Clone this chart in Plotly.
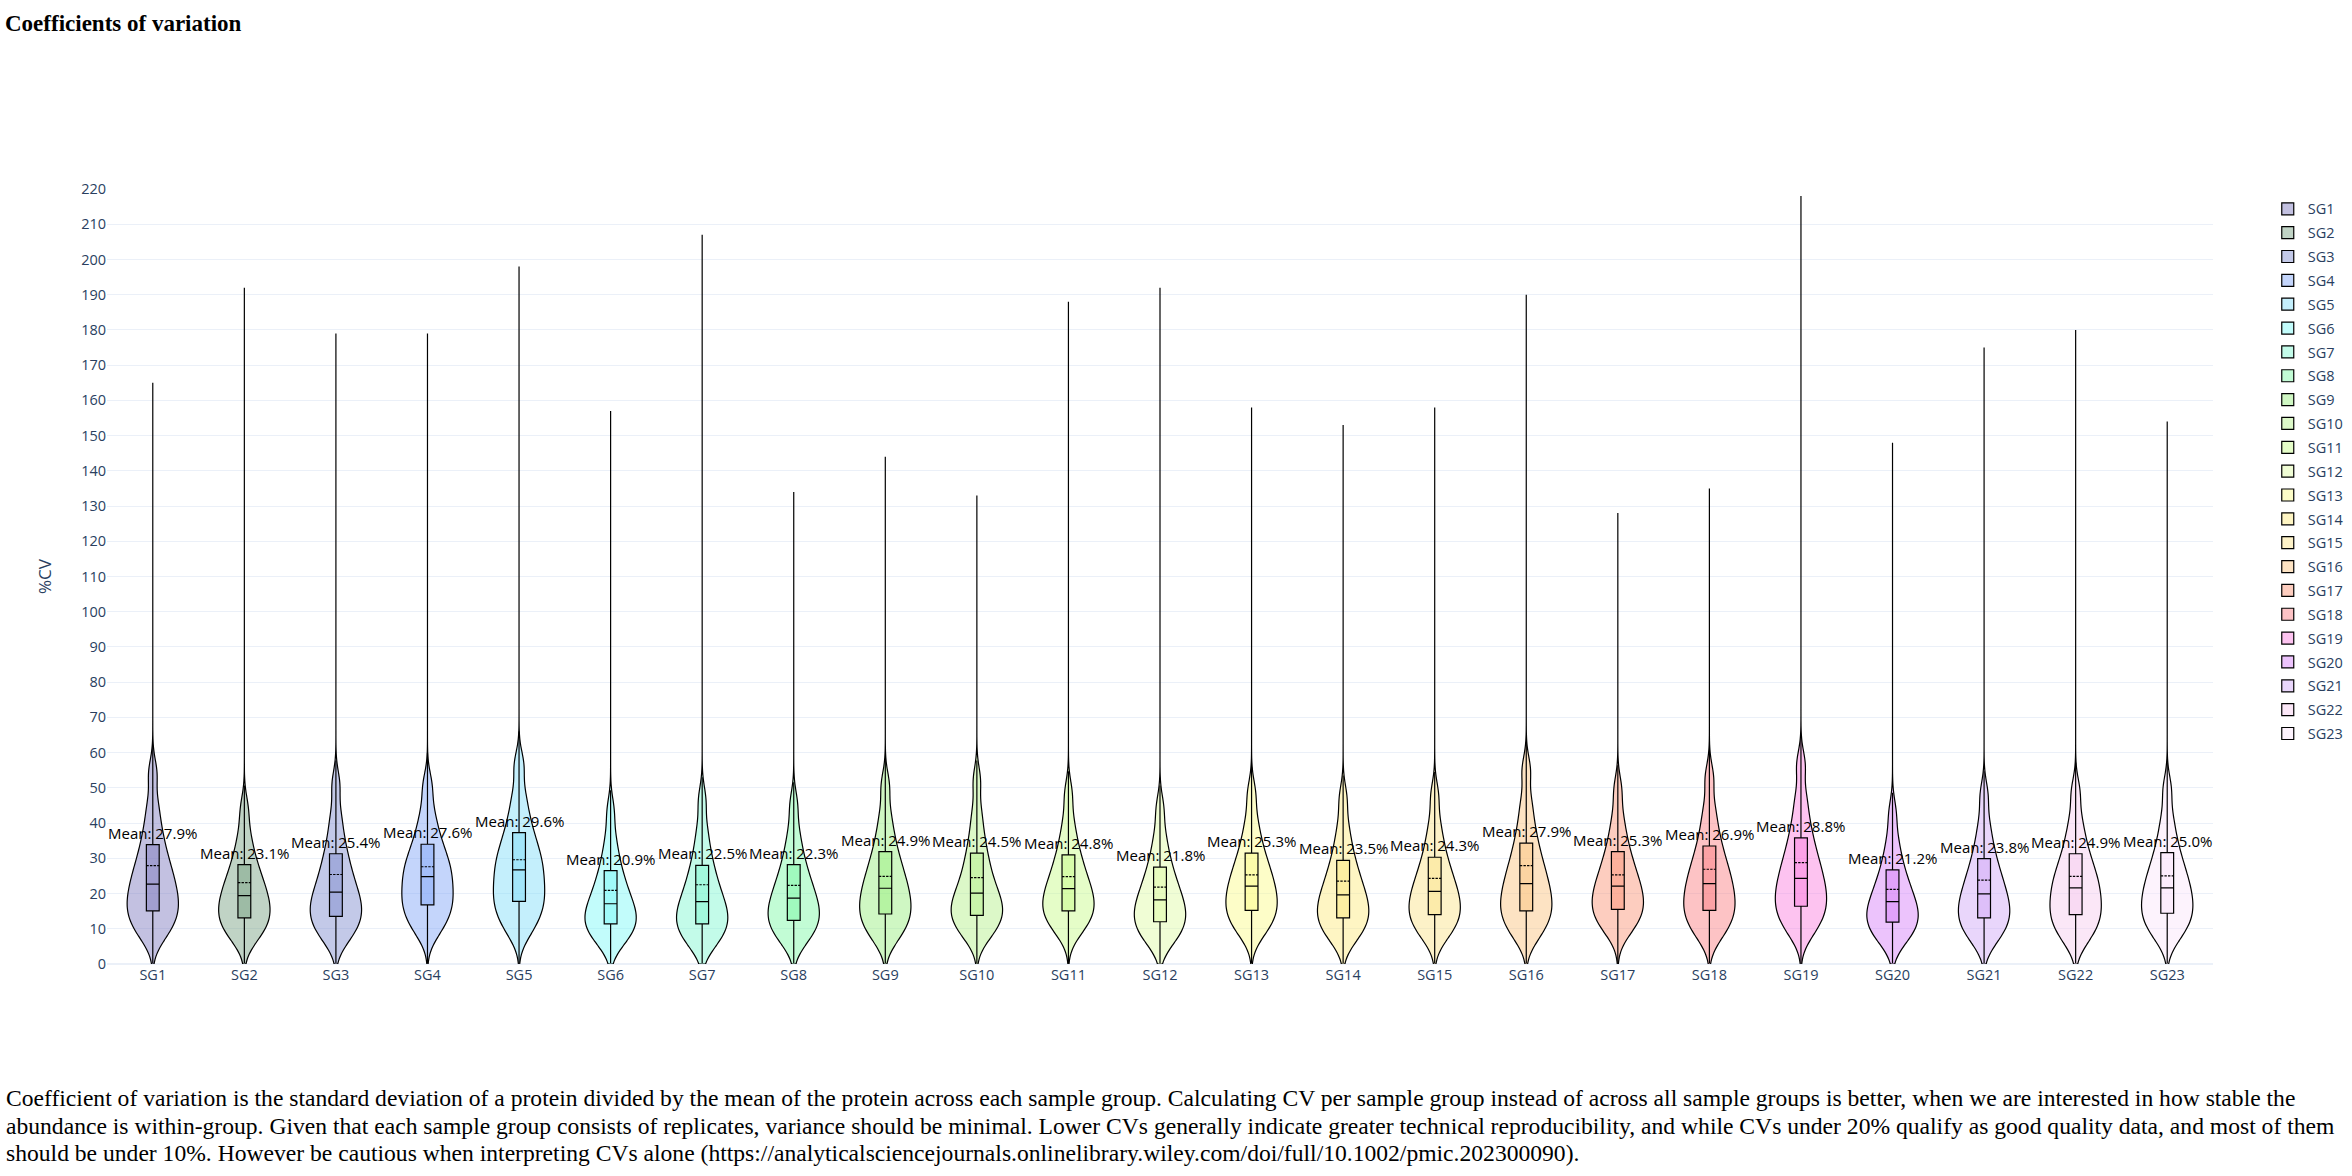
import plotly.graph_objects as go

# ---------------- data ----------------
sample_groups = [f"SG{i}" for i in range(1, 24)]

mean_cv = [27.9, 23.1, 25.4, 27.6, 29.6, 20.9, 22.5, 22.3, 24.9, 24.5, 24.8, 21.8,
           25.3, 23.5, 24.3, 27.9, 25.3, 26.9, 28.8, 21.2, 23.8, 24.9, 25.0]
q1_cv = [15.1, 13.1, 13.5, 16.8, 17.8, 11.4, 11.4, 12.4, 14.2, 13.8, 15.1, 12.0,
         15.2, 13.1, 14.0, 15.1, 15.5, 15.2, 16.4, 11.9, 13.1, 14.0, 14.4]
median_cv = [22.7, 19.4, 20.4, 24.8, 26.7, 17.1, 17.7, 18.7, 21.5, 20.1, 21.4, 18.2,
             22.1, 19.6, 20.6, 22.8, 22.1, 22.8, 24.3, 17.7, 19.9, 21.6, 21.6]
q3_cv = [33.9, 28.2, 31.3, 34.0, 37.3, 26.5, 28.0, 28.2, 31.9, 31.5, 31.0, 27.5,
         31.5, 29.4, 30.3, 34.3, 31.9, 33.5, 35.8, 26.7, 29.9, 31.3, 31.6]
whisker_hi_cv = [62.0, 50.7, 57.8, 60.0, 66.0, 49.3, 53.0, 51.6, 58.3, 57.8, 54.7, 50.7,
                 55.9, 53.5, 54.5, 63.0, 56.4, 60.6, 64.9, 48.6, 54.7, 57.1, 57.1]
min_cv = [0.3, 0.3, 0.3, 0.3, 0.3, 0.3, 0.3, 0.3, 0.3, 0.3, 0.3, 0.3,
          0.3, 0.3, 0.3, 0.3, 0.3, 0.3, 0.3, 0.3, 0.3, 0.3, 0.3]
max_cv = [165, 192, 179, 179, 198, 157, 207, 134, 144, 133, 188, 192,
          158, 153, 158, 190, 128, 135, 218, 148, 175, 180, 154]

# estimated CV quantiles (%) describing the body of each distribution (violin shape)
cv_sg1 = [6.9, 9.5, 11.3, 12.9, 14.4, 15.8, 17.3, 18.7, 20.3, 21.9, 23.6, 25.4, 27.4, 29.6, 32.3, 35.5, 39.5, 45.1, 54.1]
cv_sg2 = [6.3, 8.4, 10.0, 11.3, 12.5, 13.7, 14.9, 16.1, 17.4, 18.7, 20.1, 21.5, 23.1, 24.9, 27.0, 29.4, 32.6, 37.0, 44.0]
cv_sg3 = [6.1, 8.4, 10.1, 11.5, 12.9, 14.2, 15.5, 16.8, 18.2, 19.6, 21.2, 23.0, 25.0, 27.2, 29.8, 32.8, 36.8, 42.2, 50.9]
cv_sg4 = [8.2, 10.9, 12.8, 14.5, 16.1, 17.6, 19.1, 20.6, 22.2, 23.9, 25.5, 27.0, 28.7, 30.5, 32.7, 35.3, 38.6, 43.2, 50.6]
cv_sg5 = [8.2, 11.2, 13.4, 15.2, 17.0, 18.7, 20.3, 22.1, 23.8, 25.7, 27.5, 29.2, 31.2, 33.3, 35.8, 38.8, 42.6, 47.9, 56.4]
cv_sg6 = [5.3, 7.2, 8.6, 9.8, 10.9, 12.0, 13.0, 14.1, 15.3, 16.5, 17.8, 19.4, 21.1, 22.9, 25.2, 27.8, 31.2, 35.9, 43.4]
cv_sg7 = [4.6, 6.7, 8.3, 9.6, 10.8, 12.0, 13.2, 14.4, 15.7, 17.0, 18.5, 20.2, 22.0, 24.1, 26.6, 29.4, 33.2, 38.3, 46.5]
cv_sg8 = [5.6, 7.7, 9.3, 10.6, 11.8, 13.0, 14.2, 15.4, 16.7, 18.0, 19.4, 21.0, 22.7, 24.6, 26.9, 29.5, 33.0, 37.7, 45.3]
cv_sg9 = [6.3, 8.8, 10.6, 12.1, 13.5, 14.9, 16.3, 17.7, 19.2, 20.7, 22.3, 24.0, 25.9, 28.0, 30.4, 33.4, 37.1, 42.3, 50.6]
cv_sg10 = [7.0, 9.1, 10.7, 12.0, 13.2, 14.4, 15.6, 16.8, 18.1, 19.4, 21.0, 22.8, 24.9, 27.2, 29.9, 33.1, 37.2, 42.9, 52.0]
cv_sg11 = [8.3, 10.4, 12.0, 13.3, 14.5, 15.7, 16.9, 18.1, 19.4, 20.7, 22.1, 23.7, 25.4, 27.4, 29.7, 32.3, 35.8, 40.6, 48.3]
cv_sg12 = [5.3, 7.4, 8.9, 10.2, 11.4, 12.6, 13.8, 15.0, 16.2, 17.5, 18.9, 20.4, 22.1, 24.0, 26.2, 28.8, 32.2, 36.8, 44.2]
cv_sg13 = [7.8, 10.1, 11.8, 13.2, 14.6, 15.9, 17.2, 18.5, 19.9, 21.3, 22.8, 24.4, 26.1, 27.9, 30.2, 32.8, 36.2, 40.9, 48.4]
cv_sg14 = [6.1, 8.3, 9.9, 11.2, 12.5, 13.7, 15.0, 16.2, 17.5, 18.9, 20.3, 22.0, 23.7, 25.7, 28.0, 30.8, 34.3, 39.2, 47.0]
cv_sg15 = [6.9, 9.1, 10.7, 12.1, 13.4, 14.6, 15.9, 17.2, 18.5, 19.9, 21.3, 22.9, 24.7, 26.6, 28.9, 31.7, 35.2, 40.0, 47.8]
cv_sg16 = [6.8, 9.4, 11.3, 12.9, 14.4, 15.8, 17.3, 18.8, 20.3, 22.0, 23.7, 25.6, 27.6, 29.9, 32.7, 35.9, 40.1, 45.8, 55.0]
cv_sg17 = [8.4, 10.6, 12.2, 13.6, 14.9, 16.1, 17.4, 18.7, 20.0, 21.4, 22.8, 24.5, 26.2, 28.2, 30.5, 33.3, 36.8, 41.7, 49.5]
cv_sg18 = [7.0, 9.6, 11.4, 13.0, 14.5, 15.9, 17.4, 18.8, 20.4, 22.0, 23.6, 25.4, 27.3, 29.4, 32.0, 35.0, 38.9, 44.2, 52.8]
cv_sg19 = [7.9, 10.6, 12.5, 14.1, 15.7, 17.2, 18.7, 20.2, 21.8, 23.4, 25.2, 27.1, 29.1, 31.4, 34.2, 37.4, 41.6, 47.3, 56.5]
cv_sg20 = [5.6, 7.6, 9.0, 10.2, 11.4, 12.5, 13.6, 14.7, 15.8, 17.1, 18.4, 19.9, 21.5, 23.3, 25.4, 28.0, 31.2, 35.7, 42.9]
cv_sg21 = [5.8, 8.1, 9.7, 11.1, 12.5, 13.8, 15.0, 16.3, 17.7, 19.1, 20.7, 22.3, 24.1, 26.1, 28.5, 31.3, 34.9, 39.9, 47.9]
cv_sg22 = [5.8, 8.4, 10.2, 11.8, 13.3, 14.7, 16.2, 17.6, 19.2, 20.8, 22.3, 23.9, 25.7, 27.6, 29.9, 32.7, 36.2, 41.0, 48.8]
cv_sg23 = [6.6, 9.1, 10.8, 12.3, 13.7, 15.1, 16.5, 17.8, 19.3, 20.8, 22.4, 24.0, 25.8, 27.8, 30.2, 33.0, 36.6, 41.6, 49.6]

cv_values = [cv_sg1, cv_sg2, cv_sg3, cv_sg4, cv_sg5, cv_sg6, cv_sg7, cv_sg8, cv_sg9, cv_sg10,
             cv_sg11, cv_sg12, cv_sg13, cv_sg14, cv_sg15, cv_sg16, cv_sg17, cv_sg18, cv_sg19,
             cv_sg20, cv_sg21, cv_sg22, cv_sg23]

base_rgb = [(122, 117, 188), (115, 157, 126), (122, 135, 204), (124, 162, 246), (124, 219, 248),
            (119, 248, 246), (122, 246, 206), (119, 248, 162), (148, 237, 122), (177, 239, 133),
            (197, 251, 133), (222, 251, 162), (251, 251, 133), (253, 233, 122), (251, 226, 133),
            (251, 193, 122), (251, 144, 113), (251, 122, 126), (251, 122, 222), (213, 122, 248),
            (206, 164, 246), (246, 202, 237), (251, 228, 251)]

title_text = "<b>Coefficients of variation</b>"
note_lines = [
    "Coefficient of variation is the standard deviation of a protein divided by the mean of the protein across each sample group. Calculating CV per sample group instead of across all sample groups is better, when we are interested in how stable the",
    "abundance is within-group. Given that each sample group consists of replicates, variance should be minimal. Lower CVs generally indicate greater technical reproducibility, and while CVs under 20% qualify as good quality data, and most of them",
    "should be under 10%. However be cautious when interpreting CVs alone (https://analyticalsciencejournals.onlinelibrary.wiley.com/doi/full/10.1002/pmic.202300090).",
]

# ---------------- figure ----------------
W, H = 2352, 1176
ML, MR, MT, MB = 107, 139, 189, 212
plot_w = W - ML - MR
plot_h = H - MT - MB

VIOLIN_W = 0.56
LINE_W = 1.2

fig = go.Figure()
for i, name in enumerate(sample_groups):
    rgb = base_rgb[i]
    fill = f"rgba({rgb[0]},{rgb[1]},{rgb[2]},0.45)"
    vals = cv_values[i]
    fig.add_trace(go.Violin(
        x=[name] * len(vals), y=vals, name=name, legendgroup=name,
        fillcolor=fill, line=dict(color="black", width=LINE_W),
        box=dict(visible=False), meanline=dict(visible=False),
        points=False, spanmode="manual", span=[0, max_cv[i]], bandwidth=4,
        width=VIOLIN_W, scalemode="width", hoverinfo="skip",
    ))
    fig.add_trace(go.Box(
        x=[name], name=name, legendgroup=name, showlegend=False,
        q1=[q1_cv[i]], median=[median_cv[i]], q3=[q3_cv[i]], mean=[mean_cv[i]],
        lowerfence=[min_cv[i]], upperfence=[whisker_hi_cv[i]],
        boxmean=True, boxpoints=False, width=VIOLIN_W * 0.25, whiskerwidth=0,
        fillcolor=fill, line=dict(color="black", width=LINE_W), hoverinfo="skip",
    ))

annotations = []
for name, q3, m in zip(sample_groups, q3_cv, mean_cv):
    annotations.append(dict(x=name, y=q3, xref="x", yref="y", text=f"Mean: {m:.1f}%",
                            showarrow=False, xanchor="center", yanchor="bottom",
                            font=dict(size=15, color="black")))

line_centers_px = [1098, 1125.5, 1153]
for txt, py in zip(note_lines, line_centers_px):
    annotations.append(dict(
        x=(4 - ML) / plot_w, y=(H - MB - py) / plot_h, xref="paper", yref="paper",
        xanchor="left", yanchor="middle", align="left", showarrow=False,
        text=txt, font=dict(family="Liberation Serif", size=23.6, color="black"),
    ))

fig.update_layout(
    template="plotly_white",
    width=W, height=H,
    margin=dict(l=ML, r=MR, t=MT, b=MB, autoexpand=False),
    font=dict(family="Open Sans", size=14.5),
    title=dict(text=title_text, x=5 / W, xref="container", xanchor="left",
               y=1 - 23 / H, yref="container", yanchor="middle",
               font=dict(family="Liberation Serif", size=23, color="black")),
    violinmode="overlay",
    boxmode="overlay",
    showlegend=True,
    legend=dict(x=1.026, y=0.995, xanchor="left", yanchor="top", font=dict(size=14.5),
                tracegroupgap=2),
    yaxis=dict(title=dict(text="%CV", standoff=25), range=[0, 220], dtick=10),
    xaxis=dict(type="category", range=[-0.5, len(sample_groups) - 0.5]),
    annotations=annotations,
)

fig.write_html("out.html")
